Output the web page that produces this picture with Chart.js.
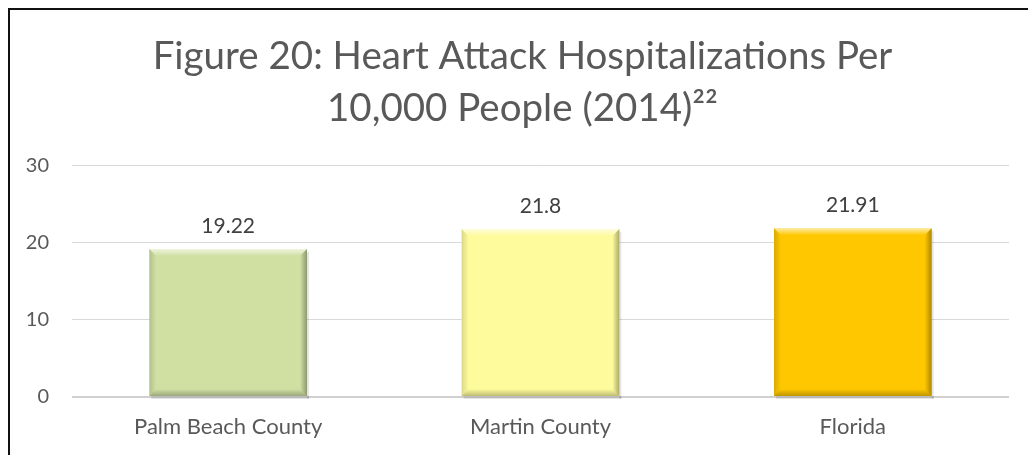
<!DOCTYPE html>
<html>
<head>
<meta charset="utf-8">
<title>Heart Attack Hospitalizations</title>
<script src="https://cdn.jsdelivr.net/npm/chart.js@4/dist/chart.umd.min.js"></script>
<style>
  html, body { margin: 0; padding: 0; overflow: hidden; background: #fff; width: 1028px; height: 455px; }
  #frame {
    position: absolute; left: 8px; top: 8px; width: 1018px; height: 445px;
    overflow: hidden;
    border-top: 2px solid #111; border-left: 2px solid #111;
  }
  #chart { display: block; }
</style>
</head>
<body>
<div id="frame"><canvas id="chart" width="1018" height="445"></canvas></div>
<script>
const categories = ['Palm Beach County', 'Martin County', 'Florida'];
const rates = [19.22, 21.8, 21.91];
const barColors = ['#d0e0a3', '#fdfb9b', '#fec700'];
const yTicks = [0, 10, 20, 30];
const titleLines = ['Figure 20: Heart Attack Hospitalizations Per', '10,000 People (2014)\u00b2\u00b2'];

const FONT = 'Lato';

// soft bevel on each bar: light top edge, darker right and bottom edges
const bevelPlugin = {
  id: 'bevel',
  afterDatasetsDraw(chart) {
    const ctx = chart.ctx;
    const b = 7;
    chart.getDatasetMeta(0).data.forEach((bar) => {
      const { x, y, base, width } = bar.getProps(['x', 'y', 'base', 'width'], true);
      const l = x - width / 2, r = x + width / 2, t = y, bot = base;
      ctx.save();

      // drop shadow under and right of the bar
      ctx.fillStyle = 'rgba(0,0,0,0.10)';
      ctx.fillRect(l + 2, bot, width, 3);
      ctx.fillRect(r, t + 3, 2, bot - t);

      let g = ctx.createLinearGradient(0, t, 0, t + b);
      g.addColorStop(0, 'rgba(255,255,255,0.65)');
      g.addColorStop(1, 'rgba(255,255,255,0)');
      ctx.fillStyle = g;
      ctx.beginPath();
      ctx.moveTo(l, t); ctx.lineTo(r, t); ctx.lineTo(r - b, t + b); ctx.lineTo(l + b, t + b);
      ctx.closePath(); ctx.fill();

      g = ctx.createLinearGradient(l, 0, l + b, 0);
      g.addColorStop(0, 'rgba(0,0,0,0.14)');
      g.addColorStop(1, 'rgba(0,0,0,0)');
      ctx.fillStyle = g;
      ctx.beginPath();
      ctx.moveTo(l, t); ctx.lineTo(l + b, t + b); ctx.lineTo(l + b, bot - b); ctx.lineTo(l, bot);
      ctx.closePath(); ctx.fill();

      g = ctx.createLinearGradient(r - b, 0, r, 0);
      g.addColorStop(0, 'rgba(0,0,0,0)');
      g.addColorStop(1, 'rgba(0,0,0,0.32)');
      ctx.fillStyle = g;
      ctx.beginPath();
      ctx.moveTo(r, t); ctx.lineTo(r, bot); ctx.lineTo(r - b, bot - b); ctx.lineTo(r - b, t + b);
      ctx.closePath(); ctx.fill();

      g = ctx.createLinearGradient(0, bot - b, 0, bot);
      g.addColorStop(0, 'rgba(0,0,0,0)');
      g.addColorStop(1, 'rgba(0,0,0,0.25)');
      ctx.fillStyle = g;
      ctx.beginPath();
      ctx.moveTo(l, bot); ctx.lineTo(r, bot); ctx.lineTo(r - b, bot - b); ctx.lineTo(l + b, bot - b);
      ctx.closePath(); ctx.fill();

      ctx.restore();
    });
  }
};

// value printed above each bar
const valueLabels = {
  id: 'valueLabels',
  afterDatasetsDraw(chart) {
    const ctx = chart.ctx;
    const values = chart.data.datasets[0].data;
    ctx.save();
    ctx.font = '21px ' + FONT;
    ctx.fillStyle = '#404040';
    ctx.textAlign = 'center';
    ctx.textBaseline = 'alphabetic';
    chart.getDatasetMeta(0).data.forEach((bar, i) => {
      ctx.fillText(String(values[i]), bar.x, bar.y - 16);
    });
    ctx.restore();
  }
};

// centre the title a little right of the canvas middle, as in the original layout
const titleOffset = {
  id: 'titleOffset',
  afterLayout(chart) {
    if (chart.titleBlock) chart.titleBlock.left += 26;
  }
};

new Chart(document.getElementById('chart'), {
  type: 'bar',
  data: {
    labels: categories,
    datasets: [{
      data: rates,
      backgroundColor: barColors,
      borderWidth: 0,
      categoryPercentage: 1,
      barPercentage: 0.505,
    }],
  },
  options: {
    responsive: false,
    animation: false,
    layout: { padding: { left: 0, right: 19, top: 0, bottom: 0 } },
    plugins: {
      legend: { display: false },
      tooltip: { enabled: false },
      title: {
        display: true,
        text: titleLines,
        color: '#595959',
        font: { family: FONT, size: 38.5, weight: 'normal', lineHeight: 1.35 },
        padding: { top: 21, bottom: 31 },
      },
    },
    scales: {
      x: {
        afterFit: (axis) => { axis.height = 58; },
        grid: { display: false },
        border: { display: false },
        ticks: { color: '#595959', font: { family: FONT, size: 22 }, padding: 9 },
      },
      y: {
        min: 0,
        max: 30,
        afterBuildTicks: (axis) => { axis.ticks = yTicks.map((v) => ({ value: v })); },
        afterFit: (axis) => { axis.width = 62; },
        border: { display: false },
        grid: {
          drawTicks: false,
          color: (c) => (c.tick && c.tick.value === 0 ? '#d0d0d0' : '#d9d9d9'),
          lineWidth: (c) => (c.tick && c.tick.value === 0 ? 2 : 1),
        },
        ticks: { color: '#595959', font: { family: FONT, size: 20 }, padding: 23 },
      },
    },
  },
  plugins: [titleOffset, bevelPlugin, valueLabels],
});
</script>
</body>
</html>
